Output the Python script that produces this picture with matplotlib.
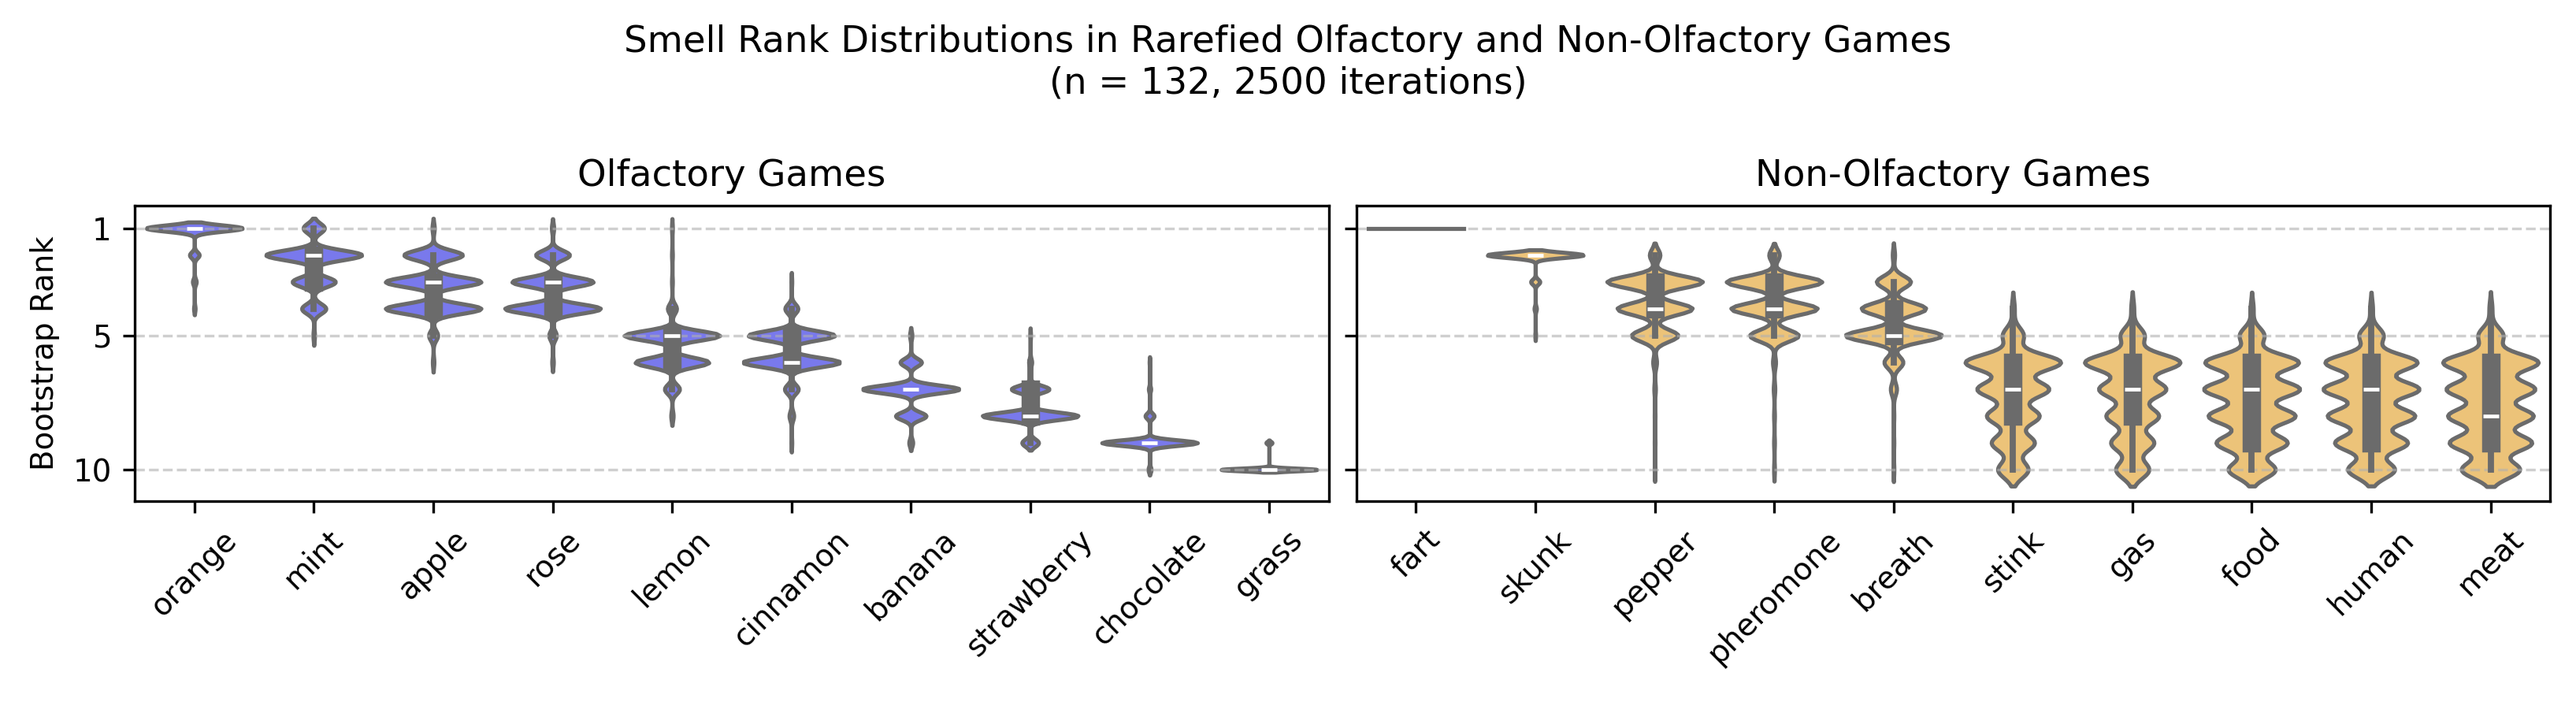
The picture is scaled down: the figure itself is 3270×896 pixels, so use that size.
import numpy as np
import pandas as pd
import matplotlib
matplotlib.use("Agg")
import matplotlib.pyplot as plt
import seaborn as sns

plt.rcParams["font.size"] = 9.3

ranks = list(range(1, 11))

# --- Olfactory games: bootstrap iterations (of 2500) landing on each rank 1..10
olf_smells = ["orange", "mint", "apple", "rose", "lemon",
              "cinnamon", "banana", "strawberry", "chocolate", "grass"]
olf_counts = [
    [2167, 217, 83, 33, 0, 0, 0, 0, 0, 0],         # orange
    [285, 1291, 579, 325, 20, 0, 0, 0, 0, 0],      # mint
    [21, 559, 910, 910, 86, 14, 0, 0, 0, 0],       # apple
    [25, 381, 915, 1077, 85, 17, 0, 0, 0, 0],      # rose
    [10, 10, 10, 114, 1205, 932, 190, 29, 0, 0],   # lemon
    [0, 0, 9, 150, 998, 1122, 159, 53, 9, 0],      # cinnamon
    [0, 0, 0, 0, 37, 345, 1563, 493, 62, 0],       # banana
    [0, 0, 0, 0, 12, 49, 613, 1556, 270, 0],       # strawberry
    [0, 0, 0, 0, 0, 17, 51, 204, 2160, 68],        # chocolate
    [0, 0, 0, 0, 0, 0, 0, 0, 148, 2352],           # grass
]

# --- Non-olfactory games
non_smells = ["fart", "skunk", "pepper", "pheromone", "breath",
              "stink", "gas", "food", "human", "meat"]
non_counts = [
    [2500, 0, 0, 0, 0, 0, 0, 0, 0, 0],             # fart
    [0, 2220, 210, 52, 18, 0, 0, 0, 0, 0],         # skunk
    [0, 112, 1014, 799, 495, 40, 16, 8, 8, 8],     # pepper
    [0, 106, 962, 871, 492, 30, 15, 8, 8, 8],      # pheromone
    [0, 25, 380, 718, 1073, 211, 68, 8, 8, 9],     # breath
    [0, 0, 0, 23, 166, 753, 565, 414, 339, 240],   # stink
    [0, 0, 0, 23, 188, 751, 526, 413, 338, 261],   # gas
    [0, 0, 0, 18, 146, 555, 567, 514, 421, 279],   # food
    [0, 0, 0, 17, 144, 546, 567, 517, 431, 278],   # human
    [0, 0, 0, 17, 143, 545, 505, 487, 470, 333],   # meat
]

olf_color = "#6666ff"
non_color = "#ffc966"


def to_long(smells, counts):
    rows = []
    for smell, c in zip(smells, counts):
        r = np.repeat(ranks, c)
        rows.append(pd.DataFrame({"smell": smell, "rank": r}))
    return pd.concat(rows, ignore_index=True)


olf_df = to_long(olf_smells, olf_counts)
non_df = to_long(non_smells, non_counts)

fig, axes = plt.subplots(1, 2, figsize=(10.9, 2.987), dpi=300, sharey=True)
fig.subplots_adjust(left=0.0523, right=0.990, bottom=0.29, top=0.709, wspace=0.023)

panels = [
    (axes[0], olf_df, olf_smells, olf_color, "Olfactory Games"),
    (axes[1], non_df, non_smells, non_color, "Non-Olfactory Games"),
]
for ax, df, order, color, title in panels:
    sns.violinplot(data=df, x="smell", y="rank", order=order, color=color,
                   density_norm="width", inner="box", ax=ax)
    ax.set_title(title)
    ax.set_xlabel("")
    ax.tick_params(axis="x", rotation=45)
    ax.grid(axis="y", linestyle="--", alpha=0.6)

axes[0].set_ylabel("Bootstrap Rank")
axes[1].set_ylabel("")
axes[0].set_yticks([1, 5, 10])
axes[0].set_ylim(11.18, 0.15)

fig.suptitle("Smell Rank Distributions in Rarefied Olfactory and Non-Olfactory Games\n"
             "(n = 132, 2500 iterations)", y=0.965)

fig.savefig("out.png", dpi=300)
